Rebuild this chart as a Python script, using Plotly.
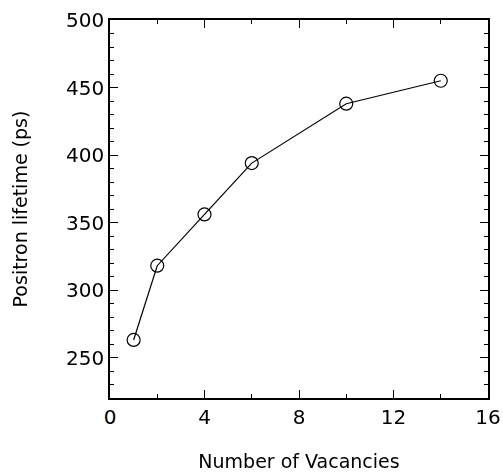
import plotly.graph_objects as go

vacancies = [1, 2, 4, 6, 10, 14]
lifetime = [263, 318, 356, 394, 438, 455]

x_range = [0, 16]
y_range = [220, 500]
x_major, x_minor = 4, 2
y_major, y_minor = 50, 10

FONT = "DejaVu Sans, Verdana, sans-serif"

fig = go.Figure()
fig.add_trace(go.Scatter(
    x=vacancies, y=lifetime, mode="lines+markers",
    line=dict(color="black", width=1.2),
    marker=dict(symbol="circle-open", size=13, color="black", line=dict(width=1.2)),
    showlegend=False,
))
# invisible copy so the mirrored (top/right) tick axes are drawn
fig.add_trace(go.Scatter(
    x=vacancies, y=lifetime, mode="markers", opacity=0,
    xaxis="x2", yaxis="y2", showlegend=False, hoverinfo="skip",
))

tick_common = dict(
    ticks="inside", ticklen=8, tickwidth=1.2, tickcolor="black",
    showgrid=False, zeroline=False, tickmode="linear", tick0=0,
    automargin=False,
)
minor_x = dict(ticks="inside", ticklen=4, tickwidth=1.2, tickcolor="black", dtick=x_minor, tick0=0, showgrid=False)
minor_y = dict(ticks="inside", ticklen=4, tickwidth=1.2, tickcolor="black", dtick=y_minor, tick0=0, showgrid=False)

fig.update_layout(
    width=503, height=472,
    margin=dict(l=110, r=15, t=20, b=74, autoexpand=False),
    plot_bgcolor="white", paper_bgcolor="white",
    xaxis=dict(
        range=x_range, dtick=x_major, minor=minor_x,
        showline=True, linecolor="black", linewidth=1.5, mirror=True,
        tickfont=dict(family=FONT, size=20, color="black"),
        title=dict(text="Number of Vacancies", standoff=28,
                   font=dict(family=FONT, size=19, color="black")),
        **tick_common,
    ),
    yaxis=dict(
        range=y_range, dtick=y_major, minor=minor_y,
        showline=True, linecolor="black", linewidth=1.5, mirror=True,
        tickfont=dict(family=FONT, size=20, color="black"),
        title=dict(text="Positron lifetime (ps)", standoff=33,
                   font=dict(family=FONT, size=19, color="black")),
        **tick_common,
    ),
    xaxis2=dict(
        range=x_range, dtick=x_major, minor=minor_x, overlaying="x", side="top",
        anchor="y", showticklabels=False, showline=False, **tick_common,
    ),
    yaxis2=dict(
        range=y_range, dtick=y_major, minor=minor_y, overlaying="y", side="right",
        anchor="x", showticklabels=False, showline=False, **tick_common,
    ),
)

fig.write_html("out.html")
